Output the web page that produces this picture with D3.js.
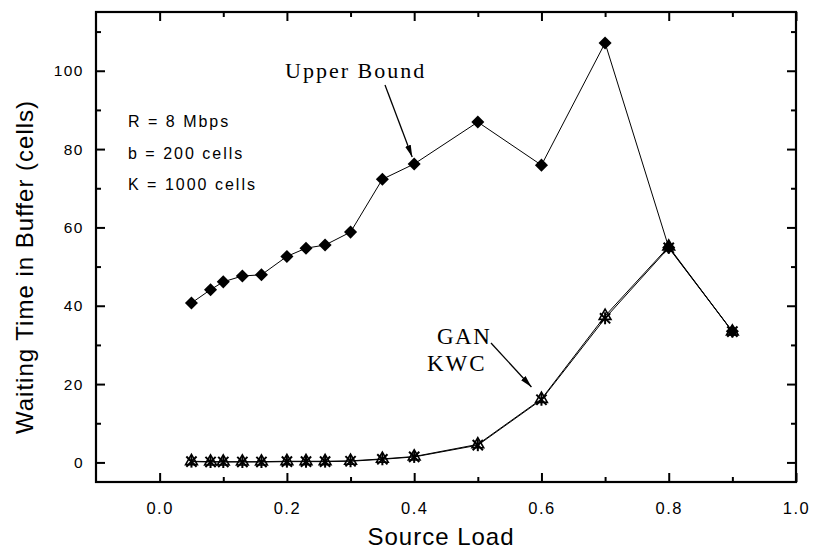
<!DOCTYPE html>
<html>
<head>
<meta charset="utf-8">
<script src="https://cdn.jsdelivr.net/npm/d3@7"></script>
<style>
  body { margin: 0; background: #fff; }
  .tick-label { font-family: "Liberation Sans", Arial, sans-serif; fill: #000; }
  .axis-title { font-family: "Liberation Sans", Arial, sans-serif; fill: #000; }
  .note { font-family: "Liberation Serif", "Times New Roman", serif; fill: #000; }
</style>
</head>
<body>
<div class="vis-chart"></div>
<script>
// data
const loads = [0.05, 0.08, 0.1, 0.13, 0.16, 0.2, 0.23, 0.26, 0.3, 0.35, 0.4, 0.5, 0.6, 0.7, 0.8, 0.9];
const upperBound = [40.7, 44.1, 46.1, 47.6, 47.9, 52.6, 54.7, 55.5, 58.8, 72.3, 76.2, 86.9, 75.9, 107.1, 54.9, 33.5];
const gan = [0.3, 0.2, 0.2, 0.2, 0.2, 0.3, 0.3, 0.3, 0.4, 0.9, 1.5, 4.6, 16.2, 37.4, 55.1, 33.4];
const kwc = [0.2, 0.1, 0.1, 0.1, 0.1, 0.2, 0.2, 0.2, 0.3, 0.8, 1.4, 4.4, 16.0, 36.8, 54.8, 33.4];
const xTicks = [0.0, 0.2, 0.4, 0.6, 0.8, 1.0];
const xMinor = [0.1, 0.3, 0.5, 0.7, 0.9];
const yTicks = [0, 20, 40, 60, 80, 100];
const yMinor = [10, 30, 50, 70, 90, 110];
const params = ["R = 8 Mbps", "b = 200 cells", "K = 1000 cells"];

const W = 813, H = 551;
const margin = { top: 12, right: 17, bottom: 69, left: 96 };
const width = W - margin.left - margin.right;
const height = H - margin.top - margin.bottom;

const svg = d3.select(".vis-chart")
  .append("svg")
  .attr("width", W)
  .attr("height", H)
  .append("g")
  .attr("transform", "translate(" + margin.left + "," + margin.top + ")");

const x = d3.scaleLinear().domain([-0.1, 1.0]).range([0, width]);
const y = d3.scaleLinear().domain([-5, 115]).range([height, 0]);

// ticks pointing inward on all four sides
const tickStyle = (g) => {
  g.select(".domain").remove();
  g.selectAll(".tick line").attr("stroke", "#000").attr("stroke-width", 2);
};

svg.append("g").attr("transform", "translate(0," + height + ")")
  .call(d3.axisBottom(x).tickValues(xTicks).tickSize(-9).tickPadding(20).tickFormat(d3.format(".1f")))
  .call(tickStyle)
  .call((g) => g.selectAll(".tick text").attr("class", "tick-label").attr("font-size", 16.5).attr("letter-spacing", 1.5));
svg.append("g").attr("transform", "translate(0," + height + ")")
  .call(d3.axisBottom(x).tickValues(xMinor).tickSize(-5).tickFormat(""))
  .call(tickStyle);
svg.append("g")
  .call(d3.axisTop(x).tickValues(xTicks).tickSize(-9).tickFormat(""))
  .call(tickStyle);
svg.append("g")
  .call(d3.axisTop(x).tickValues(xMinor).tickSize(-5).tickFormat(""))
  .call(tickStyle);

svg.append("g")
  .call(d3.axisLeft(y).tickValues(yTicks).tickSize(-9).tickPadding(12))
  .call(tickStyle)
  .call((g) => g.selectAll(".tick text").attr("class", "tick-label").attr("font-size", 15.5).attr("letter-spacing", 1.5));
svg.append("g")
  .call(d3.axisLeft(y).tickValues(yMinor).tickSize(-5).tickFormat(""))
  .call(tickStyle);
svg.append("g").attr("transform", "translate(" + width + ",0)")
  .call(d3.axisRight(y).tickValues(yTicks).tickSize(-9).tickFormat(""))
  .call(tickStyle);
svg.append("g").attr("transform", "translate(" + width + ",0)")
  .call(d3.axisRight(y).tickValues(yMinor).tickSize(-5).tickFormat(""))
  .call(tickStyle);

// frame
svg.append("rect")
  .attr("width", width)
  .attr("height", height)
  .attr("fill", "none")
  .attr("stroke", "#000")
  .attr("stroke-width", 2.2);

// axis titles
svg.append("text")
  .attr("class", "axis-title")
  .attr("x", width / 2 - 5)
  .attr("y", height + 63)
  .attr("font-size", 24)
  .attr("letter-spacing", 1)
  .attr("text-anchor", "middle")
  .text("Source Load");

svg.append("text")
  .attr("class", "axis-title")
  .attr("transform", "rotate(-90)")
  .attr("x", -(267 - margin.top))
  .attr("y", 33 - margin.left)
  .attr("font-size", 24)
  .attr("letter-spacing", 1)
  .attr("text-anchor", "middle")
  .text("Waiting Time in Buffer (cells)");

// lines
const line = (vals) => d3.line().x((d, i) => x(loads[i])).y((d) => y(d))(vals);

svg.append("path").attr("d", line(kwc)).attr("fill", "none").attr("stroke", "#000").attr("stroke-width", 1);
svg.append("path").attr("d", line(gan)).attr("fill", "none").attr("stroke", "#000").attr("stroke-width", 1);
svg.append("path").attr("d", line(upperBound)).attr("fill", "none").attr("stroke", "#000").attr("stroke-width", 1);

// markers: KWC asterisks, GAN open triangles, Upper Bound diamonds
svg.selectAll(".kwc")
  .data(kwc)
  .enter()
  .append("path")
  .attr("class", "kwc")
  .attr("transform", (d, i) => `translate(${x(loads[i])},${y(d)})`)
  .attr("d", d3.symbol(d3.symbolTimes, 70))
  .attr("fill", "none")
  .attr("stroke", "#000")
  .attr("stroke-width", 2);
svg.selectAll(".kwc-v")
  .data(kwc)
  .enter()
  .append("line")
  .attr("class", "kwc-v")
  .attr("x1", (d, i) => x(loads[i]))
  .attr("x2", (d, i) => x(loads[i]))
  .attr("y1", (d) => y(d) - 6)
  .attr("y2", (d) => y(d) + 6)
  .attr("stroke", "#000")
  .attr("stroke-width", 2);

svg.selectAll(".gan")
  .data(gan)
  .enter()
  .append("path")
  .attr("class", "gan")
  .attr("transform", (d, i) => `translate(${x(loads[i])},${y(d)})`)
  .attr("d", d3.symbol(d3.symbolTriangle, 60))
  .attr("fill", "none")
  .attr("stroke", "#000")
  .attr("stroke-width", 1.6);

svg.selectAll(".ub")
  .data(upperBound)
  .enter()
  .append("path")
  .attr("class", "ub")
  .attr("transform", (d, i) => `translate(${x(loads[i])},${y(d)}) rotate(45)`)
  .attr("d", d3.symbol(d3.symbolSquare, 85))
  .attr("fill", "#000");

// parameter notes
svg.selectAll(".param")
  .data(params)
  .enter()
  .append("text")
  .attr("class", "tick-label")
  .attr("x", 128 - margin.left)
  .attr("y", (d, i) => 127 - margin.top + i * 31.7)
  .attr("font-size", 16)
  .attr("letter-spacing", 2)
  .text((d) => d);

// annotations with arrows
svg.append("defs").append("marker")
  .attr("id", "arrow")
  .attr("viewBox", "0 0 12 6")
  .attr("refX", 12)
  .attr("refY", 3)
  .attr("markerWidth", 12)
  .attr("markerHeight", 6)
  .attr("markerUnits", "userSpaceOnUse")
  .attr("orient", "auto")
  .append("path")
  .attr("d", "M0,0L12,3L0,6Z")
  .attr("fill", "#000");

svg.append("text")
  .attr("class", "note")
  .attr("x", 285 - margin.left)
  .attr("y", 78 - margin.top)
  .attr("font-size", 22)
  .attr("letter-spacing", 2)
  .text("Upper Bound");
svg.append("line")
  .attr("x1", 385 - margin.left).attr("y1", 85 - margin.top)
  .attr("x2", x(0.4) - 2).attr("y2", y(upperBound[10]) - 7)
  .attr("stroke", "#000").attr("stroke-width", 1.3)
  .attr("marker-end", "url(#arrow)");

svg.append("text")
  .attr("class", "note")
  .attr("x", 437 - margin.left)
  .attr("y", 344 - margin.top)
  .attr("font-size", 23)
  .attr("letter-spacing", 1.5)
  .text("GAN");
svg.append("text")
  .attr("class", "note")
  .attr("x", 427 - margin.left)
  .attr("y", 371 - margin.top)
  .attr("font-size", 23)
  .attr("letter-spacing", 2)
  .text("KWC");
svg.append("line")
  .attr("x1", 491 - margin.left).attr("y1", 343 - margin.top)
  .attr("x2", x(0.6) - 10).attr("y2", y(gan[12]) - 12)
  .attr("stroke", "#000").attr("stroke-width", 1.3)
  .attr("marker-end", "url(#arrow)");
</script>
</body>
</html>
